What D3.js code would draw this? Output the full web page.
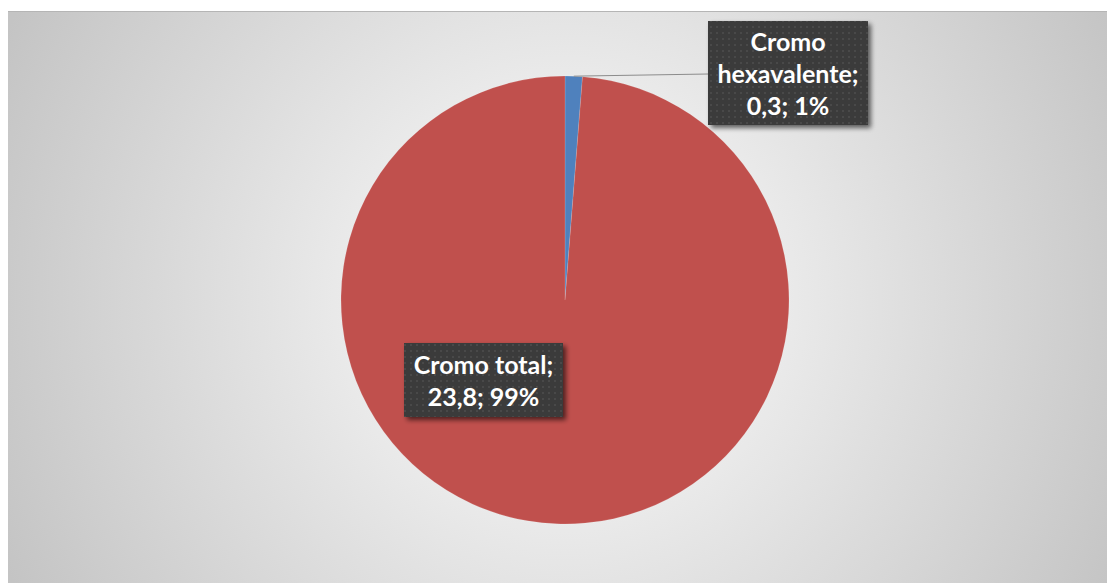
<!DOCTYPE html>
<html><head><meta charset="utf-8">
<script src="https://cdn.jsdelivr.net/npm/d3@7"></script>
<style>html,body{margin:0;padding:0;background:#fff;}svg{display:block;}</style>
</head><body>
<script>
const categories = ["Cromo hexavalente", "Cromo total"];
const values = [0.3, 23.8];
const percentLabels = ["1%", "99%"];
const valueLabels = ["0,3", "23,8"];
const colors = ["#4f81bd", "#c0504d"];

const W = 1108, H = 583;
const svg = d3.select("body").append("svg").attr("width", W).attr("height", H);
const defs = svg.append("defs");

const grad = defs.append("radialGradient").attr("id", "bg")
  .attr("gradientUnits", "userSpaceOnUse")
  .attr("cx", 565).attr("cy", 300).attr("r", 620);
grad.append("stop").attr("offset", "0%").attr("stop-color", "#ffffff");
grad.append("stop").attr("offset", "100%").attr("stop-color", "#c4c4c4");

const pat = defs.append("pattern").attr("id", "dots").attr("patternUnits", "userSpaceOnUse")
  .attr("width", 6).attr("height", 6);
pat.append("rect").attr("width", 6).attr("height", 6).attr("fill", "#3b3b3b");
pat.append("rect").attr("x", 2).attr("y", 2).attr("width", 2).attr("height", 2).attr("fill", "#4a4a4a");

const shadow = defs.append("filter").attr("id", "sh").attr("x", "-20%").attr("y", "-20%").attr("width", "140%").attr("height", "150%");
shadow.append("feGaussianBlur").attr("in", "SourceAlpha").attr("stdDeviation", 2.5);
shadow.append("feOffset").attr("dx", 3).attr("dy", 3).attr("result", "b");
shadow.append("feComponentTransfer").append("feFuncA").attr("type", "linear").attr("slope", 0.6);
const m = shadow.append("feMerge");
m.append("feMergeNode");
m.append("feMergeNode").attr("in", "SourceGraphic");

// chart area
svg.append("rect").attr("x", 8).attr("y", 11).attr("width", W - 9).attr("height", H - 11)
  .attr("fill", "url(#bg)");
svg.append("line").attr("x1", 8).attr("x2", W - 1).attr("y1", 11.5).attr("y2", 11.5)
  .attr("stroke", "#b5b5b5").attr("stroke-width", 1);

const cx = 565, cy = 300, R = 224;
const pie = d3.pie().sort(null).value(d => d)(values);
const arc = d3.arc().innerRadius(0).outerRadius(R);
const g = svg.append("g").attr("transform", `translate(${cx},${cy})`);
g.selectAll("path").data(pie).join("path")
  .attr("d", arc).attr("fill", (d, i) => colors[i])
  .attr("stroke", "#ffffff").attr("stroke-opacity", 0.25).attr("stroke-width", 0.5);

// leader line for small slice
const a0 = (pie[0].startAngle + pie[0].endAngle) / 2;
const p0 = [cx + Math.sin(a0) * R, cy - Math.cos(a0) * R];

const labels = [
  { lines: [categories[0].split(" ")[0], categories[0].split(" ")[1] + ";", valueLabels[0] + "; " + percentLabels[0]],
    x: 708, y: 21, w: 160, h: 104 },
  { lines: [categories[1] + ";", valueLabels[1] + "; " + percentLabels[1]],
    x: 404, y: 343, w: 159, h: 74 }
];

svg.append("line").attr("x1", p0[0]).attr("y1", p0[1]).attr("x2", labels[0].x).attr("y2", 74)
  .attr("stroke", "#8c8c8c").attr("stroke-width", 1);

labels.forEach(L => {
  const lg = svg.append("g");
  lg.append("rect").attr("x", L.x).attr("y", L.y).attr("width", L.w).attr("height", L.h)
    .attr("fill", "url(#dots)").attr("filter", "url(#sh)");
  const n = L.lines.length, lh = 32;
  const top = L.y + L.h / 2 - (n * lh) / 2;
  L.lines.forEach((t, i) => {
    lg.append("text").attr("x", L.x + L.w / 2).attr("y", top + lh * i + lh / 2 + 1)
      .attr("dy", "0.35em").attr("text-anchor", "middle")
      .attr("font-family", "Lato, 'Open Sans', sans-serif").attr("font-weight", 700)
      .attr("font-size", 25).attr("fill", "#ffffff").text(t);
  });
});
</script>
</body></html>
